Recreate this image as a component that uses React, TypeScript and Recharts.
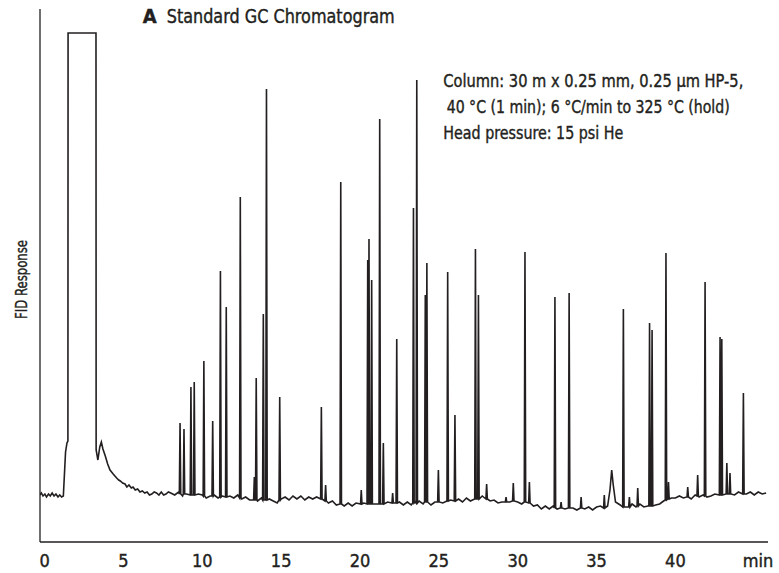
import { LineChart, Line, XAxis, YAxis } from 'recharts'

const INK = '#231f20'
const FONT = "'DejaVu Sans Condensed', 'DejaVu Sans', sans-serif"

// retention time (min) vs detector response (arbitrary units)
const leadIn: [number, number][] = [
  [-0.29, 47], [-0.2, 49], [-0.1, 46], [0.02, 48], [0.12, 45], [0.25, 48], [0.36, 46], [0.48, 49],
  [0.6, 46], [0.72, 48], [0.85, 45], [0.96, 47], [1.08, 45], [1.19, 46],
]

// solvent front (off-scale) and its tail
const solvent: [number, number][] = [
  [1.33, 90], [1.42, 99], [1.48, 101], [1.49, 509], [3.26, 509], [3.27, 92], [3.38, 82], [3.5, 95],
  [3.6, 100], [3.7, 93], [3.85, 86], [4.0, 78], [4.15, 72], [4.35, 68], [4.57, 64], [4.7, 62],
  [4.8, 61], [4.95, 59], [5.1, 58], [5.22, 55], [5.35, 57], [5.5, 54], [5.61, 55], [5.75, 52],
  [5.9, 53], [6.05, 50], [6.2, 51], [6.35, 49], [6.5, 50], [6.65, 47], [6.8, 48], [6.95, 50],
  [7.1, 49], [7.25, 47], [7.4, 50], [7.55, 47], [7.7, 48], [7.85, 50],
]

// baseline samples, every 0.25 min from 8 min
const BASE_START = 8
const BASE_STEP = 0.25
const baselineValues = [
  49, 47, 50, 46, 48, 50, 45, 48, 47, 44, 46, 47, 44, 46, 43, 46, 44, 47, 43, 45,
  42, 44, 41, 44, 40, 43, 41, 39, 43, 45, 42, 46, 43, 46, 42, 45, 43, 45, 41, 42,
  39, 41, 37, 39, 36, 39, 36, 39, 36, 39, 37, 35, 38, 39, 36, 40, 38, 36, 40, 37,
  40, 37, 40, 41, 38, 41, 37, 40, 42, 39, 40, 42, 39, 43, 40, 44, 41, 45, 42, 46,
  43, 41, 42, 39, 40, 42, 40, 42, 40, 38, 38, 35, 36, 37, 33, 36, 33, 36, 33, 37,
  33, 35, 34, 32, 35, 33, 35, 32, 35, 36, 34, 35, 37, 34, 37, 35, 36, 38, 35, 38,
  35, 36, 36, 37, 38, 41, 41, 44, 44, 46, 44, 46, 43, 47, 45, 47, 45, 46, 48, 45,
  49, 46, 50, 47, 50, 47, 48, 50, 47, 50, 48, 49,
]

// [time, apex, local baseline]
const peaks: [number, number, number][] = [
  [8.59, 119, 48], [8.84, 113, 48], [9.28, 155, 47], [9.49, 160, 47], [10.1, 181, 46], [10.66, 121, 46],
  [11.15, 271, 45], [11.52, 235, 45], [12.41, 345, 44], [13.3, 65, 42], [13.42, 164, 42], [13.87, 228, 42],
  [14.07, 453, 42], [14.91, 145, 42], [17.55, 135, 43], [17.82, 57, 41], [18.78, 360, 38], [20.08, 52, 38],
  [20.49, 282, 38], [20.57, 303, 38], [20.74, 262, 38], [21.25, 423, 38], [21.48, 99, 38], [22.07, 49, 39],
  [22.33, 203, 39], [23.39, 334, 39], [23.6, 462, 39], [24.14, 247, 40], [24.24, 279, 40], [24.97, 72, 40],
  [25.56, 270, 41], [26.02, 127, 41], [27.32, 293, 43], [27.51, 247, 43], [28.03, 58, 43], [29.26, 45, 40],
  [29.72, 59, 41], [30.46, 290, 40], [30.74, 60, 39], [32.36, 245, 34], [32.75, 40, 34], [33.26, 249, 34],
  [34.02, 45, 34], [35.49, 47, 34], [36.7, 233, 35], [37.08, 45, 35], [37.61, 54, 36], [38.36, 219, 36],
  [38.52, 212, 36], [39.4, 289, 42], [39.56, 60, 43], [40.78, 55, 45], [41.41, 67, 46], [41.88, 260, 46],
  [42.83, 205, 47], [42.94, 203, 47], [43.26, 79, 48], [43.46, 69, 48], [44.31, 149, 48],
]

// broad late-eluting hump
const hump: [number, number][] = [
  [35.7, 36], [35.85, 52], [35.96, 72], [36.05, 58], [36.2, 40],
]

const xTicks = [0, 5, 10, 15, 20, 25, 30, 35, 40, 45.24]
const PEAK_HALF = 0.045

function buildTrace() {
  const pts: { t: number; v: number }[] = []
  leadIn.forEach(([t, v]) => pts.push({ t, v }))
  solvent.forEach(([t, v]) => pts.push({ t, v }))
  baselineValues.forEach((v, i) => {
    const t = BASE_START + i * BASE_STEP
    if (peaks.some(p => Math.abs(p[0] - t) < 0.08)) return
    if (t > 35.6 && t < 36.3) return
    pts.push({ t, v })
  })
  peaks.forEach(([t, h, b]) => {
    pts.push({ t: t - PEAK_HALF, v: b }, { t, v: h }, { t: t + PEAK_HALF, v: b })
  })
  hump.forEach(([t, v]) => pts.push({ t, v }))
  return pts.sort((a, b) => a.t - b.t)
}

const trace = buildTrace()

// slight outline gives the medium weight of the original condensed face
const textStyle: React.CSSProperties = {
  fontFamily: FONT, fill: INK, fontStretch: 'condensed', stroke: INK, strokeWidth: 0.4,
}

function TimeTick({ x, y, payload }: { x: number; y: number; payload: { value: number } }) {
  const label = payload.value > 44 ? 'min' : String(payload.value)
  return (
    <text x={x} y={y} dy="0.71em" textAnchor="middle" fontSize={18} style={textStyle}>
      {label}
    </text>
  )
}

export default function App() {
  return (
    <div style={{ position: 'absolute', left: 0, top: 0, width: 779, height: 573, background: '#fff' }}>
      <LineChart width={779} height={573} data={trace} margin={{ top: 9, right: 11, bottom: 0, left: 0 }}>
        <XAxis
          dataKey="t"
          type="number"
          domain={[-0.29, 45.87]}
          ticks={xTicks}
          interval={0}
          allowDataOverflow
          height={31}
          tickLine={false}
          tickMargin={6}
          axisLine={{ stroke: INK, strokeWidth: 1.3 }}
          tick={TimeTick}
        />
        <YAxis
          type="number"
          domain={[0, 533]}
          width={40}
          tick={false}
          tickLine={false}
          axisLine={{ stroke: INK, strokeWidth: 1.3 }}
        />
        <Line type="linear" dataKey="v" stroke={INK} strokeWidth={1.6} dot={false} isAnimationActive={false} />
      </LineChart>
      <svg width={779} height={573} style={{ position: 'absolute', left: 0, top: 0, pointerEvents: 'none' }}>
        <text x={142.7} y={23} fontSize={20} fontWeight="bold" style={textStyle}>A</text>
        <text x={166.7} y={23} fontSize={20} textLength={228} lengthAdjust="spacingAndGlyphs" style={textStyle}>
          Standard GC Chromatogram
        </text>
        <text x={443.3} y={87} fontSize={18} textLength={300} lengthAdjust="spacingAndGlyphs" style={textStyle}>
          Column: 30 m x 0.25 mm, 0.25 µm HP-5,
        </text>
        <text x={446.7} y={113} fontSize={18} textLength={283} lengthAdjust="spacingAndGlyphs" style={textStyle}>
          40 °C (1 min); 6 °C/min to 325 °C (hold)
        </text>
        <text x={443.3} y={139} fontSize={18} textLength={180} lengthAdjust="spacingAndGlyphs" style={textStyle}>
          Head pressure: 15 psi He
        </text>
        <text x={-279.5} y={27} transform="rotate(-90)" textAnchor="middle" fontSize={15}
          textLength={79} lengthAdjust="spacingAndGlyphs" style={textStyle}>
          FID Response
        </text>
      </svg>
    </div>
  )
}
